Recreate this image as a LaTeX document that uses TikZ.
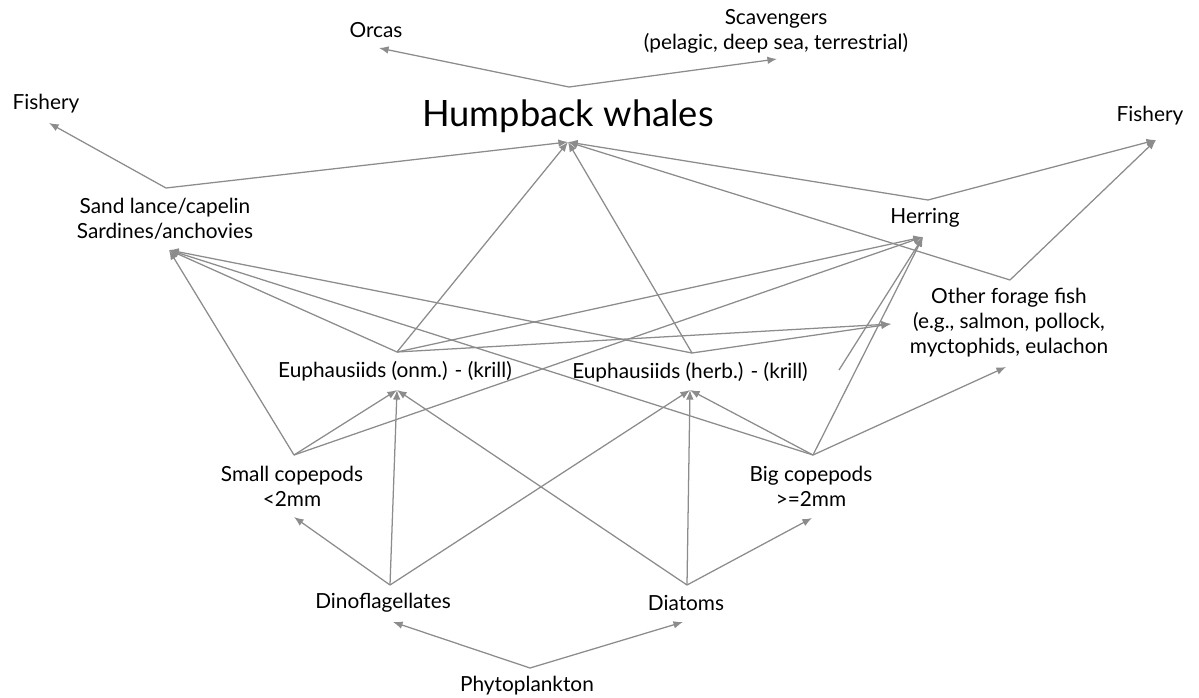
\documentclass[tikz,border=0pt]{standalone}
\usepackage{fontspec}
\setmainfont{Lato}
\usepackage{tikz}
\usetikzlibrary{arrows.meta}

\begin{document}
\begin{tikzpicture}[
  x=0.025cm, y=-0.025cm,
  sp/.style={text=black, align=center, inner sep=0pt,
             font=\fontsize{14.8}{17.7}\selectfont},
  whale/.style={sp, font=\fontsize{25.8}{28}\selectfont},
  ar/.style={-{Latex[length=2.4mm,width=1.9mm]}, line width=0.9pt, black!45},
]
\useasboundingbox (0,0) rectangle (1199,698);

% ---- species / groups ----
\node[sp] (orcas) at (376,30) {Orcas};
\node[sp] (scav) at (776,31) {Scavengers\\(pelagic, deep sea, terrestrial)};
\node[whale] (hump) at (568,116) {Humpback whales};
\node[sp] (fishL) at (46,104) {Fishery};
\node[sp] (fishR) at (1150,116) {Fishery};
\node[sp] (sand) at (165,219) {Sand lance/capelin\\Sardines/anchovies};
\node[sp] (herring) at (925,218) {Herring};
\node[sp] (forage) at (1009,323) {Other forage fish\\(e.g., salmon, pollock,\\myctophids, eulachon};
\node[sp] (onm) at (395,371) {Euphausiids (onm.) - (krill)};
\node[sp] (herb) at (690,372) {Euphausiids (herb.) - (krill)};
\node[sp] (small) at (292,486) {Small copepods\\<2mm};
\node[sp] (big) at (811,486) {Big copepods\\>=2mm};
\node[sp] (dino) at (383,603) {Dinoflagellates};
\node[sp] (diatoms) at (686,603) {Diatoms};
\node[sp] (phyto) at (527,686) {Phytoplankton};

% ---- where the links leave (t) and arrive (b) ----
\coordinate (hump-t) at (569,87);
\coordinate (hump-b) at (568,142);
\coordinate (orcas-b) at (379,48);
\coordinate (scav-b) at (777,59);
\coordinate (fishL-b) at (49,123);
\coordinate (fishR-b) at (1156,140);
\coordinate (sand-t) at (166,188);
\coordinate (sand-b) at (169,250);
\coordinate (herring-t) at (928,200);
\coordinate (herring-b) at (923,237);
\coordinate (forage-t) at (1010,280);
\coordinate (forage-l) at (891,324);
\coordinate (forage-b) at (1006,367);
\coordinate (onm-t) at (397,352);
\coordinate (onm-b) at (397,390);
\coordinate (herb-t) at (692,353);
\coordinate (herb-b) at (690,390);
\coordinate (herb-r) at (839,370);
\coordinate (small-t) at (294,455);
\coordinate (small-b) at (294,517);
\coordinate (big-t) at (813,455);
\coordinate (big-b) at (812,518);
\coordinate (dino-t) at (390,585);
\coordinate (dino-b) at (393,622);
\coordinate (diatoms-t) at (687,585);
\coordinate (diatoms-b) at (683,622);
\coordinate (phyto-t) at (530,668);

% ---- who eats whom ----
\draw[ar] (phyto-t) -- (dino-b);
\draw[ar] (phyto-t) -- (diatoms-b);

\draw[ar] (dino-t) -- (small-b);
\draw[ar] (dino-t) -- (onm-b);
\draw[ar] (dino-t) -- (herb-b);
\draw[ar] (diatoms-t) -- (big-b);
\draw[ar] (diatoms-t) -- (herb-b);
\draw[ar] (diatoms-t) -- (onm-b);

\draw[ar] (small-t) -- (onm-b);
\draw[ar] (small-t) -- (sand-b);
\draw[ar] (small-t) -- (herring-b);
\draw[ar] (big-t) -- (herb-b);
\draw[ar] (big-t) -- (sand-b);
\draw[ar] (big-t) -- (herring-b);
\draw[ar] (big-t) -- (forage-b);

\draw[ar] (onm-t) -- (sand-b);
\draw[ar] (onm-t) -- (hump-b);
\draw[ar] (onm-t) -- (herring-b);
\draw[ar] (onm-t) -- (forage-l);
\draw[ar] (herb-t) -- (sand-b);
\draw[ar] (herb-t) -- (hump-b);
\draw[ar] (herb-t) -- (forage-l);
\draw[ar] (herb-r) -- (herring-b);

\draw[ar] (sand-t) -- (hump-b);
\draw[ar] (sand-t) -- (fishL-b);
\draw[ar] (herring-t) -- (hump-b);
\draw[ar] (herring-t) -- (fishR-b);
\draw[ar] (forage-t) -- (hump-b);
\draw[ar] (forage-t) -- (fishR-b);

\draw[ar] (hump-t) -- (orcas-b);
\draw[ar] (hump-t) -- (scav-b);
\end{tikzpicture}
\end{document}
